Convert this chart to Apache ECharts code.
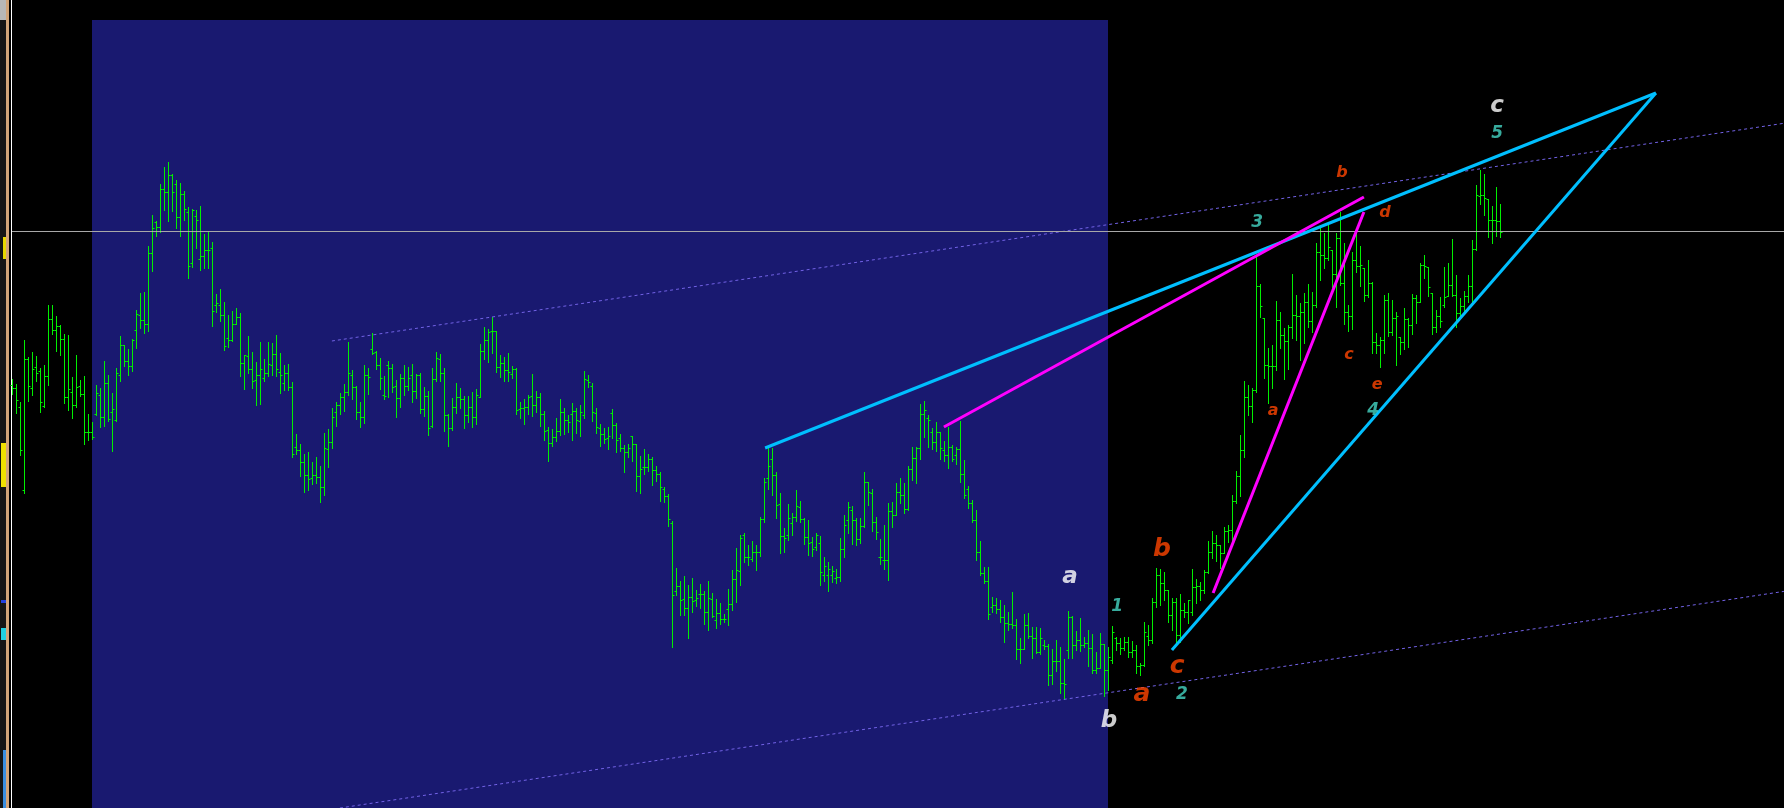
<!DOCTYPE html>
<html>
<head>
<meta charset="utf-8">
<style>html,body{margin:0;padding:0;background:#000;}#c{width:1784px;height:808px;}</style>
<script src="https://cdn.jsdelivr.net/npm/echarts@6/dist/echarts.min.js"></script>
</head>
<body>
<div id="c"></div>
<script>
// ---- Bar data (price units, one entry per bar, oldest first) ----
const openP = [615,612,593,510,641,612,633,629,594,624,681,670,674,661,603,608,595,614,606,568,
568,586,605,583,617,588,580,625,655,639,634,670,685,680,676,747,778,773,811,808,
825,816,783,806,788,737,784,741,744,750,752,695,695,685,662,660,676,683,637,644,
631,620,625,622,627,635,646,628,617,627,613,553,550,538,525,522,525,523,513,551,
558,588,595,603,608,625,613,588,583,625,651,648,635,605,635,632,614,602,622,614,
625,609,625,591,604,574,621,641,627,585,572,593,603,601,585,593,583,603,649,660,
669,669,633,637,630,626,631,591,592,593,604,595,603,586,570,557,563,569,588,580,
586,589,579,585,620,614,587,572,566,562,587,575,562,552,548,564,556,524,533,533,
541,530,526,511,504,477,409,414,401,392,403,400,406,406,388,401,380,387,381,391,
396,421,429,465,443,441,448,448,481,522,541,525,496,464,465,477,483,493,481,463,
458,453,457,425,425,425,422,423,451,480,490,480,461,474,518,507,478,443,440,440,
489,485,508,505,491,531,542,552,586,582,568,558,568,550,545,553,545,551,526,511,
497,480,448,427,419,393,395,391,383,377,376,375,351,351,375,364,362,348,355,354,
325,339,339,317,350,383,355,360,355,357,352,330,332,356,330,340,362,357,352,358,
348,350,334,335,364,360,398,425,417,410,385,398,365,390,388,388,413,414,410,428,
448,457,455,447,469,470,499,524,550,603,594,610,714,682,635,634,634,680,665,659,
673,685,684,688,698,679,695,748,745,742,750,726,762,717,688,684,740,734,732,705,
717,658,655,660,700,668,682,663,658,681,675,702,698,735,733,707,673,684,695,704,
715,705,687,694,704,714,751,804,805,801,780,780,779];
const highP = [621,616,598,660,643,648,644,632,635,695,695,684,675,666,665,623,645,620,624,586,
578,615,612,639,625,607,632,664,655,651,661,690,707,708,754,785,779,816,833,838,
826,820,817,809,793,791,790,794,766,769,758,706,711,698,685,689,692,687,645,664,
648,638,658,641,658,657,665,647,635,636,618,566,556,546,548,538,543,534,567,571,
592,598,607,616,658,630,614,598,635,632,667,649,642,624,639,636,620,626,635,633,
636,626,627,613,609,632,648,646,632,586,602,617,612,604,604,608,611,656,673,671,
683,669,645,643,647,634,632,598,601,605,626,609,607,589,573,571,582,601,592,585,
597,592,595,629,625,617,592,576,572,573,591,577,566,555,556,564,556,544,551,546,
543,534,528,513,506,479,432,419,424,415,422,410,416,409,419,407,401,397,386,411,
430,452,465,467,455,459,455,483,522,552,552,528,507,472,496,487,510,499,482,480,
463,467,464,443,438,434,431,462,485,498,494,482,482,528,518,511,483,461,475,497,
498,517,522,517,534,553,553,596,599,585,572,578,568,559,573,555,553,579,540,514,
500,490,459,433,433,403,402,400,395,388,408,381,362,386,387,373,373,372,360,356,
351,360,353,341,389,384,369,382,363,370,366,348,367,356,353,374,363,362,363,363,
359,355,337,378,375,402,432,431,428,410,402,402,406,397,400,431,421,418,430,459,
469,465,455,473,475,505,529,565,619,615,612,745,716,682,652,655,699,688,672,675,
726,705,697,707,716,708,757,775,767,775,750,767,788,757,695,748,767,754,732,740,
718,667,663,705,707,700,688,663,692,682,706,705,737,745,733,707,690,703,733,737,
761,725,702,709,725,760,815,830,826,801,794,813,796];
const lowP = [606,587,545,507,599,605,619,588,593,615,666,649,645,597,590,582,593,604,556,560,
561,585,573,574,579,549,579,619,634,625,629,652,672,667,669,729,764,768,790,779,
789,772,764,780,722,733,752,730,732,732,674,688,679,650,653,659,676,624,611,627,
612,595,596,619,624,625,624,607,610,610,543,546,524,508,510,516,517,498,505,533,
552,574,586,589,605,601,581,573,577,606,646,631,611,601,603,608,583,593,605,610,
598,602,587,584,565,573,619,619,569,554,570,587,592,572,578,573,576,603,641,638,
647,628,623,619,619,622,586,582,576,586,584,588,574,560,539,554,559,565,566,568,
560,567,564,582,613,579,567,554,557,551,562,548,549,528,543,539,509,507,526,529,
515,519,499,498,474,353,405,385,385,362,388,394,392,376,370,383,372,376,378,375,
390,398,415,438,435,439,430,444,478,511,505,482,447,448,460,465,479,478,456,445,
444,450,415,419,409,418,417,419,443,467,456,455,457,473,495,469,461,436,431,420,
473,485,497,487,490,520,517,541,563,553,551,549,541,539,532,539,536,518,502,492,
478,440,425,417,381,388,387,378,358,370,372,341,337,351,362,342,347,346,351,315,
316,329,307,301,342,342,350,349,353,334,327,327,332,304,310,337,350,346,350,343,
343,327,325,334,355,357,393,395,400,378,370,357,358,383,377,385,397,400,407,427,
442,439,432,447,458,460,497,504,543,585,578,608,683,622,597,612,630,652,621,631,
662,660,640,657,673,668,693,720,732,740,713,693,715,676,669,671,728,714,699,703,
647,647,633,647,664,665,635,646,651,653,666,677,698,722,704,666,668,673,693,704,
704,673,682,687,698,697,750,796,785,763,757,764,763];
const closeP = [612,600,550,641,614,631,627,598,624,681,670,674,661,603,611,595,613,606,568,568,
563,607,583,617,581,591,627,655,639,634,660,686,680,676,747,772,773,811,808,825,
808,783,806,791,734,790,780,744,750,750,689,697,685,654,660,676,683,637,645,631,
619,625,631,627,636,646,631,625,627,613,546,550,538,525,521,525,523,513,552,558,
583,595,603,608,627,613,588,583,625,623,647,635,622,604,632,613,602,622,614,622,
609,625,591,604,572,621,642,627,585,572,593,603,601,585,593,583,605,649,660,668,
669,633,637,630,628,631,590,592,593,603,595,603,586,569,557,563,569,588,580,578,
589,580,588,621,618,588,573,566,561,564,575,560,552,548,552,556,524,531,533,541,
530,526,513,504,481,405,414,400,392,403,399,402,406,388,402,384,387,381,381,396,
421,430,462,443,443,448,448,481,518,534,525,495,464,462,482,483,494,481,463,457,
451,465,428,434,431,429,423,451,475,493,480,461,474,518,508,478,468,443,440,489,
485,508,505,491,531,542,552,586,590,580,558,568,552,545,553,541,551,526,505,497,
480,448,427,419,386,395,391,383,377,376,375,351,351,375,364,362,348,362,354,325,
339,339,317,316,383,355,360,355,357,352,330,332,356,330,343,368,357,352,358,348,
350,334,335,368,360,398,425,417,410,385,398,365,390,388,400,413,414,410,428,448,
457,455,447,469,470,499,524,550,603,594,610,714,694,635,634,634,680,665,659,673,
685,684,688,698,679,695,748,745,742,753,726,762,717,688,684,740,734,735,705,717,
658,655,660,700,668,682,684,658,681,675,702,698,735,734,713,673,684,679,703,715,
705,687,694,704,714,751,805,805,802,780,780,779,768];

// ---- Annotations (bar index, price) ----
const shadedZone = { fromBar: 19.925, toBar: 273.925, topPrice: 980 };
const levelLine = 769;
const channelUpper = [[79.9, 659], [442.9, 876.7]];
const channelLower = [[81.9, 192], [442.9, 408.6]];
const cyanLines = [
  [[188.2, 552], [410.9, 907]],
  [[289.9, 350], [410.9, 907]]
];
const magentaLines = [
  [[232.9, 573], [337.9, 803]],
  [[300.2, 407], [337.9, 788]]
];
// wave labels: [text, bar, price, kind]
const waveLabels = [
  ['a', 264.4, 423, 'whiteBig'],
  ['b', 274.2, 279, 'whiteBig'],
  ['c', 371.2, 894, 'whiteBig'],
  ['b', 287.4, 451, 'orangeBig'],
  ['a', 282.4, 306, 'orangeBig'],
  ['c', 291.2, 334, 'orangeBig'],
  ['a', 315.2, 589, 'orangeSmall'],
  ['b', 332.4, 827, 'orangeSmall'],
  ['c', 334.2, 645, 'orangeSmall'],
  ['d', 343.2, 787, 'orangeSmall'],
  ['e', 341.2, 615, 'orangeSmall'],
  ['1', 276.2, 393, 'teal'],
  ['2', 292.4, 305, 'teal'],
  ['3', 311.2, 777, 'teal'],
  ['4', 340.2, 589, 'teal'],
  ['5', 371.2, 866, 'teal']
];

const labelStyles = {
  whiteBig:   { color: '#ffffff', fontSize: 23 },
  orangeBig:  { color: '#ff4500', fontSize: 25 },
  orangeSmall:{ color: '#ff4500', fontSize: 16 },
  teal:       { color: '#45d6c4', fontSize: 17 }
};

const barColor = '#00f000';
const ohlc = openP.map((o, i) => [i, o, highP[i], lowP[i], closeP[i]]);

function renderBar(params, api) {
  const i = api.value(0);
  const x = Math.round(api.coord([i, 0])[0]) + 0.5;
  const yh = Math.round(api.coord([i, api.value(2)])[1]);
  const yl = Math.round(api.coord([i, api.value(3)])[1]);
  const yo = Math.round(api.coord([i, api.value(1)])[1]) + 0.5;
  const yc = Math.round(api.coord([i, api.value(4)])[1]) + 0.5;
  const st = { stroke: barColor, lineWidth: 1 };
  return {
    type: 'group',
    children: [
      { type: 'line', shape: { x1: x, y1: yh, x2: x, y2: yl + 1 }, style: st },
      { type: 'line', shape: { x1: x - 2, y1: yo, x2: x, y2: yo }, style: st },
      { type: 'line', shape: { x1: x, y1: yc, x2: x + 2, y2: yc }, style: st }
    ]
  };
}

const series = [];
series.push({
  type: 'custom',
  name: 'bars',
  renderItem: renderBar,
  data: ohlc,
  encode: { x: 0, y: [1, 2, 3, 4] },
  z: 3,
  silent: true,
  markArea: {
    silent: true,
    itemStyle: { color: '#191970', opacity: 1 },
    data: [[{ xAxis: shadedZone.fromBar, yAxis: 192 }, { xAxis: shadedZone.toBar, yAxis: shadedZone.topPrice }]]
  },
  markLine: {
    silent: true, symbol: 'none', label: { show: false },
    lineStyle: { color: '#a8a8a8', width: 1, type: 'solid' },
    data: [{ yAxis: levelLine }]
  }
});
[channelUpper, channelLower].forEach(seg => series.push({
  type: 'line', data: seg, symbol: 'none', silent: true, z: 4,
  lineStyle: { color: '#7262e6', width: 1, type: [3, 3] }
}));
cyanLines.forEach(seg => series.push({
  type: 'line', data: seg, symbol: 'none', silent: true, z: 5,
  lineStyle: { color: '#00bfff', width: 3 }
}));
magentaLines.forEach(seg => series.push({
  type: 'line', data: seg, symbol: 'none', silent: true, z: 5,
  lineStyle: { color: '#ff00ff', width: 3 }
}));
series.push({
  type: 'scatter', symbolSize: 0, silent: true, z: 6,
  data: waveLabels.map(l => ({
    value: [l[1], l[2]], name: l[0],
    label: Object.assign({
      show: true, position: 'inside', formatter: l[0],
      fontFamily: 'DejaVu Sans', fontStyle: 'italic', fontWeight: 'bold',
      align: 'center', verticalAlign: 'middle'
    }, labelStyles[l[3]])
  }))
});

const chart = echarts.init(document.getElementById('c'), null, { renderer: 'canvas' });
chart.setOption({
  backgroundColor: '#000000',
  animation: false,
  grid: { left: 12, right: 0, top: 0, bottom: 0 },
  xAxis: { type: 'value', min: -0.075, max: 442.925, show: false },
  yAxis: { type: 'value', min: 192, max: 1000, show: false },
  series: series,
  graphic: [
    { type: 'rect', shape: { x: 0, y: 0, width: 6, height: 808 }, style: { fill: '#151515' } },
    { type: 'rect', shape: { x: 0, y: 0, width: 6, height: 20 }, style: { fill: '#b8b8b8' } },
    { type: 'rect', shape: { x: 6, y: 0, width: 3, height: 808 }, style: { fill: '#d2a478' } },
    { type: 'rect', shape: { x: 3, y: 237, width: 3, height: 22 }, style: { fill: '#e8d800' } },
    { type: 'rect', shape: { x: 1, y: 443, width: 5, height: 44 }, style: { fill: '#f0e000' } },
    { type: 'rect', shape: { x: 1, y: 628, width: 5, height: 12 }, style: { fill: '#20d0e0' } },
    { type: 'rect', shape: { x: 1, y: 600, width: 5, height: 3 }, style: { fill: '#2040e0' } },
    { type: 'rect', shape: { x: 3, y: 750, width: 3, height: 58 }, style: { fill: '#3a8ee0' } },
    { type: 'rect', shape: { x: 11, y: 0, width: 1, height: 808 }, style: { fill: '#ffffff' } }
  ]
});
</script>
</body>
</html>
